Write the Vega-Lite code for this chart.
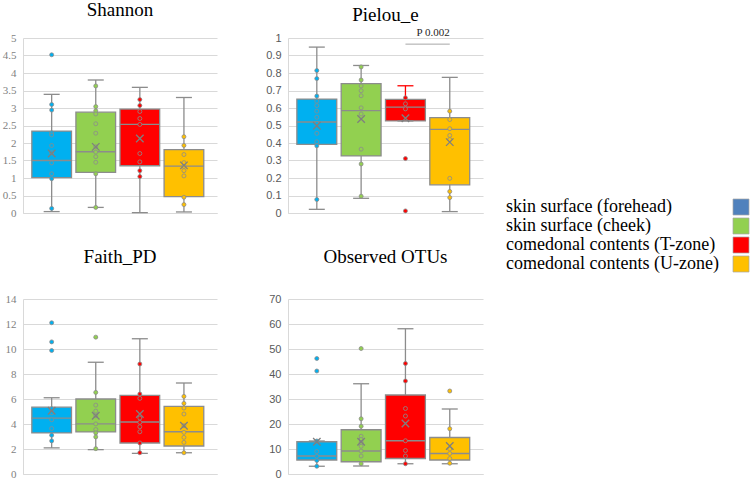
{
  "$schema": "https://vega.github.io/schema/vega-lite/v6.json",
  "padding": {"left": 2, "top": 0, "right": 0, "bottom": 0},
  "background": "white",
  "datasets": {
    "stats": [
      {"metric": "Shannon", "group": "skin surface (forehead)", "lower": 0.04, "q1": 1.01, "median": 1.50, "q3": 2.34, "upper": 3.39, "mean": 1.70},
      {"metric": "Shannon", "group": "skin surface (cheek)", "lower": 0.16, "q1": 1.16, "median": 1.75, "q3": 2.88, "upper": 3.80, "mean": 1.89},
      {"metric": "Shannon", "group": "comedonal contents (T-zone)", "lower": 0.01, "q1": 1.35, "median": 2.53, "q3": 2.97, "upper": 3.59, "mean": 2.13},
      {"metric": "Shannon", "group": "comedonal contents (U-zone)", "lower": 0.03, "q1": 0.47, "median": 1.34, "q3": 1.81, "upper": 3.30, "mean": 1.36},
      {"metric": "Pielou_e", "group": "skin surface (forehead)", "lower": 0.021, "q1": 0.392, "median": 0.520, "q3": 0.651, "upper": 0.948, "mean": 0.499},
      {"metric": "Pielou_e", "group": "skin surface (cheek)", "lower": 0.084, "q1": 0.326, "median": 0.585, "q3": 0.739, "upper": 0.843, "mean": 0.537},
      {"metric": "Pielou_e", "group": "comedonal contents (T-zone)", "lower": 0.526, "q1": 0.526, "median": 0.605, "q3": 0.649, "upper": 0.727, "mean": 0.541},
      {"metric": "Pielou_e", "group": "comedonal contents (U-zone)", "lower": 0.008, "q1": 0.161, "median": 0.478, "q3": 0.545, "upper": 0.775, "mean": 0.405},
      {"metric": "Faith_PD", "group": "skin surface (forehead)", "lower": 2.09, "q1": 3.29, "median": 4.47, "q3": 5.35, "upper": 6.10, "mean": 5.06},
      {"metric": "Faith_PD", "group": "skin surface (cheek)", "lower": 1.95, "q1": 3.37, "median": 4.01, "q3": 6.00, "upper": 8.94, "mean": 4.66},
      {"metric": "Faith_PD", "group": "comedonal contents (T-zone)", "lower": 1.65, "q1": 2.48, "median": 4.16, "q3": 6.29, "upper": 10.82, "mean": 4.80},
      {"metric": "Faith_PD", "group": "comedonal contents (U-zone)", "lower": 1.70, "q1": 2.24, "median": 3.38, "q3": 5.41, "upper": 7.28, "mean": 3.86},
      {"metric": "Observed OTUs", "group": "skin surface (forehead)", "lower": 3.1, "q1": 5.6, "median": 7.2, "q3": 12.9, "upper": 13.2, "mean": 12.9},
      {"metric": "Observed OTUs", "group": "skin surface (cheek)", "lower": 3.2, "q1": 4.9, "median": 9.2, "q3": 17.7, "upper": 36.1, "mean": 12.9},
      {"metric": "Observed OTUs", "group": "comedonal contents (T-zone)", "lower": 4.1, "q1": 6.2, "median": 13.3, "q3": 31.6, "upper": 58.1, "mean": 20.2},
      {"metric": "Observed OTUs", "group": "comedonal contents (U-zone)", "lower": 4.1, "q1": 5.6, "median": 8.2, "q3": 14.6, "upper": 26.0, "mean": 11.2}
    ],
    "points": [
      {"metric": "Shannon", "group": "skin surface (forehead)", "value": 4.52},
      {"metric": "Shannon", "group": "skin surface (forehead)", "value": 3.10},
      {"metric": "Shannon", "group": "skin surface (forehead)", "value": 2.94},
      {"metric": "Shannon", "group": "skin surface (forehead)", "value": 2.29},
      {"metric": "Shannon", "group": "skin surface (forehead)", "value": 2.23},
      {"metric": "Shannon", "group": "skin surface (forehead)", "value": 1.93},
      {"metric": "Shannon", "group": "skin surface (forehead)", "value": 1.72},
      {"metric": "Shannon", "group": "skin surface (forehead)", "value": 1.43},
      {"metric": "Shannon", "group": "skin surface (forehead)", "value": 1.12},
      {"metric": "Shannon", "group": "skin surface (forehead)", "value": 0.98},
      {"metric": "Shannon", "group": "skin surface (forehead)", "value": 0.13},
      {"metric": "Shannon", "group": "skin surface (cheek)", "value": 3.63},
      {"metric": "Shannon", "group": "skin surface (cheek)", "value": 3.04},
      {"metric": "Shannon", "group": "skin surface (cheek)", "value": 2.92},
      {"metric": "Shannon", "group": "skin surface (cheek)", "value": 2.83},
      {"metric": "Shannon", "group": "skin surface (cheek)", "value": 2.55},
      {"metric": "Shannon", "group": "skin surface (cheek)", "value": 2.28},
      {"metric": "Shannon", "group": "skin surface (cheek)", "value": 1.89},
      {"metric": "Shannon", "group": "skin surface (cheek)", "value": 1.74},
      {"metric": "Shannon", "group": "skin surface (cheek)", "value": 1.61},
      {"metric": "Shannon", "group": "skin surface (cheek)", "value": 1.45},
      {"metric": "Shannon", "group": "skin surface (cheek)", "value": 1.12},
      {"metric": "Shannon", "group": "skin surface (cheek)", "value": 0.16},
      {"metric": "Shannon", "group": "comedonal contents (T-zone)", "value": 3.24},
      {"metric": "Shannon", "group": "comedonal contents (T-zone)", "value": 3.07},
      {"metric": "Shannon", "group": "comedonal contents (T-zone)", "value": 2.90},
      {"metric": "Shannon", "group": "comedonal contents (T-zone)", "value": 2.70},
      {"metric": "Shannon", "group": "comedonal contents (T-zone)", "value": 2.53},
      {"metric": "Shannon", "group": "comedonal contents (T-zone)", "value": 1.70},
      {"metric": "Shannon", "group": "comedonal contents (T-zone)", "value": 1.46},
      {"metric": "Shannon", "group": "comedonal contents (T-zone)", "value": 1.21},
      {"metric": "Shannon", "group": "comedonal contents (T-zone)", "value": 1.04},
      {"metric": "Shannon", "group": "comedonal contents (U-zone)", "value": 2.18},
      {"metric": "Shannon", "group": "comedonal contents (U-zone)", "value": 1.93},
      {"metric": "Shannon", "group": "comedonal contents (U-zone)", "value": 1.67},
      {"metric": "Shannon", "group": "comedonal contents (U-zone)", "value": 1.44},
      {"metric": "Shannon", "group": "comedonal contents (U-zone)", "value": 1.33},
      {"metric": "Shannon", "group": "comedonal contents (U-zone)", "value": 1.21},
      {"metric": "Shannon", "group": "comedonal contents (U-zone)", "value": 1.06},
      {"metric": "Shannon", "group": "comedonal contents (U-zone)", "value": 0.45},
      {"metric": "Shannon", "group": "comedonal contents (U-zone)", "value": 0.24},
      {"metric": "Pielou_e", "group": "skin surface (forehead)", "value": 0.814},
      {"metric": "Pielou_e", "group": "skin surface (forehead)", "value": 0.768},
      {"metric": "Pielou_e", "group": "skin surface (forehead)", "value": 0.668},
      {"metric": "Pielou_e", "group": "skin surface (forehead)", "value": 0.639},
      {"metric": "Pielou_e", "group": "skin surface (forehead)", "value": 0.614},
      {"metric": "Pielou_e", "group": "skin surface (forehead)", "value": 0.582},
      {"metric": "Pielou_e", "group": "skin surface (forehead)", "value": 0.547},
      {"metric": "Pielou_e", "group": "skin surface (forehead)", "value": 0.512},
      {"metric": "Pielou_e", "group": "skin surface (forehead)", "value": 0.455},
      {"metric": "Pielou_e", "group": "skin surface (forehead)", "value": 0.407},
      {"metric": "Pielou_e", "group": "skin surface (forehead)", "value": 0.384},
      {"metric": "Pielou_e", "group": "skin surface (forehead)", "value": 0.077},
      {"metric": "Pielou_e", "group": "skin surface (cheek)", "value": 0.835},
      {"metric": "Pielou_e", "group": "skin surface (cheek)", "value": 0.760},
      {"metric": "Pielou_e", "group": "skin surface (cheek)", "value": 0.726},
      {"metric": "Pielou_e", "group": "skin surface (cheek)", "value": 0.699},
      {"metric": "Pielou_e", "group": "skin surface (cheek)", "value": 0.670},
      {"metric": "Pielou_e", "group": "skin surface (cheek)", "value": 0.601},
      {"metric": "Pielou_e", "group": "skin surface (cheek)", "value": 0.566},
      {"metric": "Pielou_e", "group": "skin surface (cheek)", "value": 0.365},
      {"metric": "Pielou_e", "group": "skin surface (cheek)", "value": 0.280},
      {"metric": "Pielou_e", "group": "skin surface (cheek)", "value": 0.096},
      {"metric": "Pielou_e", "group": "comedonal contents (T-zone)", "value": 0.658},
      {"metric": "Pielou_e", "group": "comedonal contents (T-zone)", "value": 0.624},
      {"metric": "Pielou_e", "group": "comedonal contents (T-zone)", "value": 0.595},
      {"metric": "Pielou_e", "group": "comedonal contents (T-zone)", "value": 0.311},
      {"metric": "Pielou_e", "group": "comedonal contents (T-zone)", "value": 0.012},
      {"metric": "Pielou_e", "group": "comedonal contents (U-zone)", "value": 0.582},
      {"metric": "Pielou_e", "group": "comedonal contents (U-zone)", "value": 0.534},
      {"metric": "Pielou_e", "group": "comedonal contents (U-zone)", "value": 0.482},
      {"metric": "Pielou_e", "group": "comedonal contents (U-zone)", "value": 0.443},
      {"metric": "Pielou_e", "group": "comedonal contents (U-zone)", "value": 0.420},
      {"metric": "Pielou_e", "group": "comedonal contents (U-zone)", "value": 0.198},
      {"metric": "Pielou_e", "group": "comedonal contents (U-zone)", "value": 0.123},
      {"metric": "Pielou_e", "group": "comedonal contents (U-zone)", "value": 0.088},
      {"metric": "Faith_PD", "group": "skin surface (forehead)", "value": 12.10},
      {"metric": "Faith_PD", "group": "skin surface (forehead)", "value": 10.57},
      {"metric": "Faith_PD", "group": "skin surface (forehead)", "value": 9.88},
      {"metric": "Faith_PD", "group": "skin surface (forehead)", "value": 5.22},
      {"metric": "Faith_PD", "group": "skin surface (forehead)", "value": 4.90},
      {"metric": "Faith_PD", "group": "skin surface (forehead)", "value": 4.34},
      {"metric": "Faith_PD", "group": "skin surface (forehead)", "value": 3.64},
      {"metric": "Faith_PD", "group": "skin surface (forehead)", "value": 3.10},
      {"metric": "Faith_PD", "group": "skin surface (forehead)", "value": 2.65},
      {"metric": "Faith_PD", "group": "skin surface (cheek)", "value": 10.95},
      {"metric": "Faith_PD", "group": "skin surface (cheek)", "value": 6.53},
      {"metric": "Faith_PD", "group": "skin surface (cheek)", "value": 5.51},
      {"metric": "Faith_PD", "group": "skin surface (cheek)", "value": 5.03},
      {"metric": "Faith_PD", "group": "skin surface (cheek)", "value": 4.66},
      {"metric": "Faith_PD", "group": "skin surface (cheek)", "value": 4.01},
      {"metric": "Faith_PD", "group": "skin surface (cheek)", "value": 3.56},
      {"metric": "Faith_PD", "group": "skin surface (cheek)", "value": 3.29},
      {"metric": "Faith_PD", "group": "skin surface (cheek)", "value": 2.97},
      {"metric": "Faith_PD", "group": "skin surface (cheek)", "value": 2.03},
      {"metric": "Faith_PD", "group": "comedonal contents (T-zone)", "value": 8.80},
      {"metric": "Faith_PD", "group": "comedonal contents (T-zone)", "value": 6.40},
      {"metric": "Faith_PD", "group": "comedonal contents (T-zone)", "value": 6.05},
      {"metric": "Faith_PD", "group": "comedonal contents (T-zone)", "value": 4.48},
      {"metric": "Faith_PD", "group": "comedonal contents (T-zone)", "value": 4.13},
      {"metric": "Faith_PD", "group": "comedonal contents (T-zone)", "value": 3.78},
      {"metric": "Faith_PD", "group": "comedonal contents (T-zone)", "value": 3.38},
      {"metric": "Faith_PD", "group": "comedonal contents (T-zone)", "value": 2.48},
      {"metric": "Faith_PD", "group": "comedonal contents (T-zone)", "value": 1.70},
      {"metric": "Faith_PD", "group": "comedonal contents (U-zone)", "value": 6.21},
      {"metric": "Faith_PD", "group": "comedonal contents (U-zone)", "value": 5.65},
      {"metric": "Faith_PD", "group": "comedonal contents (U-zone)", "value": 5.28},
      {"metric": "Faith_PD", "group": "comedonal contents (U-zone)", "value": 4.80},
      {"metric": "Faith_PD", "group": "comedonal contents (U-zone)", "value": 3.86},
      {"metric": "Faith_PD", "group": "comedonal contents (U-zone)", "value": 3.33},
      {"metric": "Faith_PD", "group": "comedonal contents (U-zone)", "value": 2.93},
      {"metric": "Faith_PD", "group": "comedonal contents (U-zone)", "value": 2.53},
      {"metric": "Faith_PD", "group": "comedonal contents (U-zone)", "value": 1.70},
      {"metric": "Observed OTUs", "group": "skin surface (forehead)", "value": 46.2},
      {"metric": "Observed OTUs", "group": "skin surface (forehead)", "value": 41.2},
      {"metric": "Observed OTUs", "group": "skin surface (forehead)", "value": 13.2},
      {"metric": "Observed OTUs", "group": "skin surface (forehead)", "value": 9.0},
      {"metric": "Observed OTUs", "group": "skin surface (forehead)", "value": 7.1},
      {"metric": "Observed OTUs", "group": "skin surface (forehead)", "value": 5.4},
      {"metric": "Observed OTUs", "group": "skin surface (forehead)", "value": 3.1},
      {"metric": "Observed OTUs", "group": "skin surface (cheek)", "value": 50.2},
      {"metric": "Observed OTUs", "group": "skin surface (cheek)", "value": 22.1},
      {"metric": "Observed OTUs", "group": "skin surface (cheek)", "value": 19.1},
      {"metric": "Observed OTUs", "group": "skin surface (cheek)", "value": 15.1},
      {"metric": "Observed OTUs", "group": "skin surface (cheek)", "value": 13.8},
      {"metric": "Observed OTUs", "group": "skin surface (cheek)", "value": 12.6},
      {"metric": "Observed OTUs", "group": "skin surface (cheek)", "value": 11.1},
      {"metric": "Observed OTUs", "group": "skin surface (cheek)", "value": 9.2},
      {"metric": "Observed OTUs", "group": "skin surface (cheek)", "value": 7.2},
      {"metric": "Observed OTUs", "group": "skin surface (cheek)", "value": 4.1},
      {"metric": "Observed OTUs", "group": "comedonal contents (T-zone)", "value": 44.2},
      {"metric": "Observed OTUs", "group": "comedonal contents (T-zone)", "value": 37.2},
      {"metric": "Observed OTUs", "group": "comedonal contents (T-zone)", "value": 26.2},
      {"metric": "Observed OTUs", "group": "comedonal contents (T-zone)", "value": 23.2},
      {"metric": "Observed OTUs", "group": "comedonal contents (T-zone)", "value": 13.3},
      {"metric": "Observed OTUs", "group": "comedonal contents (T-zone)", "value": 9.4},
      {"metric": "Observed OTUs", "group": "comedonal contents (T-zone)", "value": 7.2},
      {"metric": "Observed OTUs", "group": "comedonal contents (T-zone)", "value": 4.1},
      {"metric": "Observed OTUs", "group": "comedonal contents (U-zone)", "value": 33.2},
      {"metric": "Observed OTUs", "group": "comedonal contents (U-zone)", "value": 18.1},
      {"metric": "Observed OTUs", "group": "comedonal contents (U-zone)", "value": 10.0},
      {"metric": "Observed OTUs", "group": "comedonal contents (U-zone)", "value": 8.2},
      {"metric": "Observed OTUs", "group": "comedonal contents (U-zone)", "value": 6.2},
      {"metric": "Observed OTUs", "group": "comedonal contents (U-zone)", "value": 4.3}
    ],
    "annot": [
      {"from": "comedonal contents (T-zone)", "to": "comedonal contents (U-zone)", "bracket": 0.965, "labelAt": 1.0, "label": "P 0.002"}
    ],
    "groups": [
      {"group": "skin surface (forehead)"},
      {"group": "skin surface (cheek)"},
      {"group": "comedonal contents (T-zone)"},
      {"group": "comedonal contents (U-zone)"}
    ]
  },
  "spacing": 23,
  "hconcat": [
    {
      "columns": 2,
      "bounds": "flush",
      "spacing": {"row": 86, "column": 71},
      "concat": [
        {
          "width": 194, "height": 175,
          "title": {"text": "Shannon", "offset": 12.5},
          "encoding": {"x": {"field": "group", "type": "nominal", "title": null, "scale": {"domain": ["skin surface (forehead)", "skin surface (cheek)", "comedonal contents (T-zone)", "comedonal contents (U-zone)"], "paddingInner": 0.1, "paddingOuter": 0.25, "align": 0.4}, "axis": {"labels": false, "ticks": false, "grid": false, "domain": true, "domainColor": "#d9d9d9"}}},
          "layer": [
            {"data": {"name": "stats"}, "transform": [{"filter": "datum.metric === 'Shannon'"}], "mark": {"type": "rule", "color": "#8c8c8c", "strokeWidth": 1.3},
             "encoding": {"y": {"field": "lower", "type": "quantitative", "title": null, "scale": {"domain": [0, 5], "nice": false}, "axis": {"values": [0, 0.5, 1, 1.5, 2, 2.5, 3, 3.5, 4, 4.5, 5], "format": ".1~f", "labelFont": "Liberation Serif", "labelFontSize": 11, "labelColor": "#7f7f7f", "labelOverlap": false}}, "y2": {"field": "upper"}}},
            {"data": {"name": "stats"}, "transform": [{"filter": "datum.metric === 'Shannon'"}], "mark": {"type": "bar", "stroke": "#8c8c8c", "strokeWidth": 1.3},
             "encoding": {"y": {"field": "q1", "type": "quantitative", "title": null, "scale": {"domain": [0, 5], "nice": false}, "axis": {"values": [0, 0.5, 1, 1.5, 2, 2.5, 3, 3.5, 4, 4.5, 5], "format": ".1~f", "labelFont": "Liberation Serif", "labelFontSize": 11, "labelColor": "#7f7f7f", "labelOverlap": false}}, "y2": {"field": "q3"}, "color": {"field": "group", "type": "nominal", "scale": {"domain": ["skin surface (forehead)", "skin surface (cheek)", "comedonal contents (T-zone)", "comedonal contents (U-zone)"], "range": ["#00B0F0", "#92D050", "#FF0000", "#FFC000"]}, "legend": null}}},
            {"data": {"name": "stats"}, "transform": [{"filter": "datum.metric === 'Shannon'"}], "mark": {"type": "tick", "color": "#8c8c8c", "size": 16, "thickness": 1.3, "opacity": 1},
             "encoding": {"y": {"field": "lower", "type": "quantitative", "title": null, "scale": {"domain": [0, 5], "nice": false}, "axis": {"values": [0, 0.5, 1, 1.5, 2, 2.5, 3, 3.5, 4, 4.5, 5], "format": ".1~f", "labelFont": "Liberation Serif", "labelFontSize": 11, "labelColor": "#7f7f7f", "labelOverlap": false}}}},
            {"data": {"name": "stats"}, "transform": [{"filter": "datum.metric === 'Shannon'"}], "mark": {"type": "tick", "color": "#8c8c8c", "size": 16, "thickness": 1.3, "opacity": 1},
             "encoding": {"y": {"field": "upper", "type": "quantitative", "title": null, "scale": {"domain": [0, 5], "nice": false}, "axis": {"values": [0, 0.5, 1, 1.5, 2, 2.5, 3, 3.5, 4, 4.5, 5], "format": ".1~f", "labelFont": "Liberation Serif", "labelFontSize": 11, "labelColor": "#7f7f7f", "labelOverlap": false}}}},
            {"data": {"name": "stats"}, "transform": [{"filter": "datum.metric === 'Shannon'"}], "mark": {"type": "tick", "color": "#8c8c8c", "size": 40, "thickness": 1.3, "opacity": 1},
             "encoding": {"y": {"field": "median", "type": "quantitative", "title": null, "scale": {"domain": [0, 5], "nice": false}, "axis": {"values": [0, 0.5, 1, 1.5, 2, 2.5, 3, 3.5, 4, 4.5, 5], "format": ".1~f", "labelFont": "Liberation Serif", "labelFontSize": 11, "labelColor": "#7f7f7f", "labelOverlap": false}}}},
            {"data": {"name": "points"}, "transform": [{"filter": "datum.metric === 'Shannon'"}], "mark": {"type": "point", "filled": true, "size": 16, "stroke": "#8c8c8c", "strokeWidth": 0.8, "opacity": 1},
             "encoding": {"y": {"field": "value", "type": "quantitative", "title": null, "scale": {"domain": [0, 5], "nice": false}, "axis": {"values": [0, 0.5, 1, 1.5, 2, 2.5, 3, 3.5, 4, 4.5, 5], "format": ".1~f", "labelFont": "Liberation Serif", "labelFontSize": 11, "labelColor": "#7f7f7f", "labelOverlap": false}}, "color": {"field": "group", "type": "nominal", "legend": null}}},
            {"data": {"name": "stats"}, "transform": [{"filter": "datum.metric === 'Shannon'"}], "mark": {"type": "point", "shape": "M-1,-1L1,1M-1,1L1,-1", "filled": false, "color": "#7f7f7f", "size": 56, "strokeWidth": 1.3, "opacity": 1},
             "encoding": {"y": {"field": "mean", "type": "quantitative", "title": null, "scale": {"domain": [0, 5], "nice": false}, "axis": {"values": [0, 0.5, 1, 1.5, 2, 2.5, 3, 3.5, 4, 4.5, 5], "format": ".1~f", "labelFont": "Liberation Serif", "labelFontSize": 11, "labelColor": "#7f7f7f", "labelOverlap": false}}}}
          ]
        },
        {
          "width": 195, "height": 175,
          "title": {"text": "Pielou_e", "offset": 2.5},
          "encoding": {"x": {"field": "group", "type": "nominal", "title": null, "scale": {"domain": ["skin surface (forehead)", "skin surface (cheek)", "comedonal contents (T-zone)", "comedonal contents (U-zone)"], "paddingInner": 0.1, "paddingOuter": 0.25, "align": 0.4}, "axis": {"labels": false, "ticks": false, "grid": false, "domain": true, "domainColor": "#d9d9d9"}}},
          "layer": [
            {"data": {"name": "stats"}, "transform": [{"filter": "datum.metric === 'Pielou_e'"}], "mark": {"type": "rule", "strokeWidth": 1.3},
             "encoding": {"y": {"field": "lower", "type": "quantitative", "title": null, "scale": {"domain": [0, 1], "nice": false}, "axis": {"values": [0, 0.1, 0.2, 0.3, 0.4, 0.5, 0.6, 0.7, 0.8, 0.9, 1], "format": ".1~f", "labelFont": "Liberation Sans", "labelFontSize": 11, "labelColor": "#595959", "labelOverlap": false}}, "y2": {"field": "upper"}, "color": {"condition": {"test": "datum.group === 'comedonal contents (T-zone)'", "value": "#FF0000"}, "value": "#8c8c8c"}}},
            {"data": {"name": "stats"}, "transform": [{"filter": "datum.metric === 'Pielou_e'"}], "mark": {"type": "bar", "stroke": "#8c8c8c", "strokeWidth": 1.3},
             "encoding": {"y": {"field": "q1", "type": "quantitative", "title": null, "scale": {"domain": [0, 1], "nice": false}, "axis": {"values": [0, 0.1, 0.2, 0.3, 0.4, 0.5, 0.6, 0.7, 0.8, 0.9, 1], "format": ".1~f", "labelFont": "Liberation Sans", "labelFontSize": 11, "labelColor": "#595959", "labelOverlap": false}}, "y2": {"field": "q3"}, "color": {"field": "group", "type": "nominal", "legend": null}}},
            {"data": {"name": "stats"}, "transform": [{"filter": "datum.metric === 'Pielou_e'"}], "mark": {"type": "tick", "color": "#8c8c8c", "size": 16, "thickness": 1.3, "opacity": 1},
             "encoding": {"y": {"field": "lower", "type": "quantitative", "title": null, "scale": {"domain": [0, 1], "nice": false}, "axis": {"values": [0, 0.1, 0.2, 0.3, 0.4, 0.5, 0.6, 0.7, 0.8, 0.9, 1], "format": ".1~f", "labelFont": "Liberation Sans", "labelFontSize": 11, "labelColor": "#595959", "labelOverlap": false}}}},
            {"data": {"name": "stats"}, "transform": [{"filter": "datum.metric === 'Pielou_e'"}], "mark": {"type": "tick", "size": 16, "thickness": 1.3, "opacity": 1},
             "encoding": {"y": {"field": "upper", "type": "quantitative", "title": null, "scale": {"domain": [0, 1], "nice": false}, "axis": {"values": [0, 0.1, 0.2, 0.3, 0.4, 0.5, 0.6, 0.7, 0.8, 0.9, 1], "format": ".1~f", "labelFont": "Liberation Sans", "labelFontSize": 11, "labelColor": "#595959", "labelOverlap": false}}, "color": {"condition": {"test": "datum.group === 'comedonal contents (T-zone)'", "value": "#FF0000"}, "value": "#8c8c8c"}}},
            {"data": {"name": "stats"}, "transform": [{"filter": "datum.metric === 'Pielou_e'"}], "mark": {"type": "tick", "color": "#8c8c8c", "size": 40, "thickness": 1.3, "opacity": 1},
             "encoding": {"y": {"field": "median", "type": "quantitative", "title": null, "scale": {"domain": [0, 1], "nice": false}, "axis": {"values": [0, 0.1, 0.2, 0.3, 0.4, 0.5, 0.6, 0.7, 0.8, 0.9, 1], "format": ".1~f", "labelFont": "Liberation Sans", "labelFontSize": 11, "labelColor": "#595959", "labelOverlap": false}}}},
            {"data": {"name": "points"}, "transform": [{"filter": "datum.metric === 'Pielou_e'"}], "mark": {"type": "point", "filled": true, "size": 16, "stroke": "#8c8c8c", "strokeWidth": 0.8, "opacity": 1},
             "encoding": {"y": {"field": "value", "type": "quantitative", "title": null, "scale": {"domain": [0, 1], "nice": false}, "axis": {"values": [0, 0.1, 0.2, 0.3, 0.4, 0.5, 0.6, 0.7, 0.8, 0.9, 1], "format": ".1~f", "labelFont": "Liberation Sans", "labelFontSize": 11, "labelColor": "#595959", "labelOverlap": false}}, "color": {"field": "group", "type": "nominal", "legend": null}}},
            {"data": {"name": "stats"}, "transform": [{"filter": "datum.metric === 'Pielou_e'"}], "mark": {"type": "point", "shape": "M-1,-1L1,1M-1,1L1,-1", "filled": false, "color": "#7f7f7f", "size": 56, "strokeWidth": 1.3, "opacity": 1},
             "encoding": {"y": {"field": "mean", "type": "quantitative", "title": null, "scale": {"domain": [0, 1], "nice": false}, "axis": {"values": [0, 0.1, 0.2, 0.3, 0.4, 0.5, 0.6, 0.7, 0.8, 0.9, 1], "format": ".1~f", "labelFont": "Liberation Sans", "labelFontSize": 11, "labelColor": "#595959", "labelOverlap": false}}}},
            {"data": {"name": "annot"}, "mark": {"type": "rule", "color": "#a6a6a6", "strokeWidth": 1},
             "encoding": {"x": {"field": "from", "type": "nominal", "title": null}, "x2": {"field": "to"}, "y": {"field": "bracket", "type": "quantitative", "title": null, "scale": {"domain": [0, 1], "nice": false}, "axis": {"values": [0, 0.1, 0.2, 0.3, 0.4, 0.5, 0.6, 0.7, 0.8, 0.9, 1], "format": ".1~f", "labelFont": "Liberation Sans", "labelFontSize": 11, "labelColor": "#595959", "labelOverlap": false}}}},
            {"data": {"name": "annot"}, "mark": {"type": "text", "align": "right", "baseline": "alphabetic", "font": "Liberation Serif", "fontSize": 11, "color": "#262626", "dy": -2},
             "encoding": {"x": {"field": "to", "type": "nominal", "title": null}, "y": {"field": "labelAt", "type": "quantitative", "title": null, "scale": {"domain": [0, 1], "nice": false}, "axis": {"values": [0, 0.1, 0.2, 0.3, 0.4, 0.5, 0.6, 0.7, 0.8, 0.9, 1], "format": ".1~f", "labelFont": "Liberation Sans", "labelFontSize": 11, "labelColor": "#595959", "labelOverlap": false}}, "text": {"field": "label"}}}
          ]
        },
        {
          "width": 194, "height": 175,
          "title": {"text": "Faith_PD", "offset": 26},
          "encoding": {"x": {"field": "group", "type": "nominal", "title": null, "scale": {"domain": ["skin surface (forehead)", "skin surface (cheek)", "comedonal contents (T-zone)", "comedonal contents (U-zone)"], "paddingInner": 0.1, "paddingOuter": 0.25, "align": 0.4}, "axis": {"labels": false, "ticks": false, "grid": false, "domain": true, "domainColor": "#d9d9d9"}}},
          "layer": [
            {"data": {"name": "stats"}, "transform": [{"filter": "datum.metric === 'Faith_PD'"}], "mark": {"type": "rule", "color": "#8c8c8c", "strokeWidth": 1.3},
             "encoding": {"y": {"field": "lower", "type": "quantitative", "title": null, "scale": {"domain": [0, 14], "nice": false}, "axis": {"values": [0, 2, 4, 6, 8, 10, 12, 14], "format": "d", "labelFont": "Liberation Serif", "labelFontSize": 11, "labelColor": "#7f7f7f", "labelOverlap": false}}, "y2": {"field": "upper"}}},
            {"data": {"name": "stats"}, "transform": [{"filter": "datum.metric === 'Faith_PD'"}], "mark": {"type": "bar", "stroke": "#8c8c8c", "strokeWidth": 1.3},
             "encoding": {"y": {"field": "q1", "type": "quantitative", "title": null, "scale": {"domain": [0, 14], "nice": false}, "axis": {"values": [0, 2, 4, 6, 8, 10, 12, 14], "format": "d", "labelFont": "Liberation Serif", "labelFontSize": 11, "labelColor": "#7f7f7f", "labelOverlap": false}}, "y2": {"field": "q3"}, "color": {"field": "group", "type": "nominal", "legend": null}}},
            {"data": {"name": "stats"}, "transform": [{"filter": "datum.metric === 'Faith_PD'"}], "mark": {"type": "tick", "color": "#8c8c8c", "size": 16, "thickness": 1.3, "opacity": 1},
             "encoding": {"y": {"field": "lower", "type": "quantitative", "title": null, "scale": {"domain": [0, 14], "nice": false}, "axis": {"values": [0, 2, 4, 6, 8, 10, 12, 14], "format": "d", "labelFont": "Liberation Serif", "labelFontSize": 11, "labelColor": "#7f7f7f", "labelOverlap": false}}}},
            {"data": {"name": "stats"}, "transform": [{"filter": "datum.metric === 'Faith_PD'"}], "mark": {"type": "tick", "color": "#8c8c8c", "size": 16, "thickness": 1.3, "opacity": 1},
             "encoding": {"y": {"field": "upper", "type": "quantitative", "title": null, "scale": {"domain": [0, 14], "nice": false}, "axis": {"values": [0, 2, 4, 6, 8, 10, 12, 14], "format": "d", "labelFont": "Liberation Serif", "labelFontSize": 11, "labelColor": "#7f7f7f", "labelOverlap": false}}}},
            {"data": {"name": "stats"}, "transform": [{"filter": "datum.metric === 'Faith_PD'"}], "mark": {"type": "tick", "color": "#8c8c8c", "size": 40, "thickness": 1.3, "opacity": 1},
             "encoding": {"y": {"field": "median", "type": "quantitative", "title": null, "scale": {"domain": [0, 14], "nice": false}, "axis": {"values": [0, 2, 4, 6, 8, 10, 12, 14], "format": "d", "labelFont": "Liberation Serif", "labelFontSize": 11, "labelColor": "#7f7f7f", "labelOverlap": false}}}},
            {"data": {"name": "points"}, "transform": [{"filter": "datum.metric === 'Faith_PD'"}], "mark": {"type": "point", "filled": true, "size": 16, "stroke": "#8c8c8c", "strokeWidth": 0.8, "opacity": 1},
             "encoding": {"y": {"field": "value", "type": "quantitative", "title": null, "scale": {"domain": [0, 14], "nice": false}, "axis": {"values": [0, 2, 4, 6, 8, 10, 12, 14], "format": "d", "labelFont": "Liberation Serif", "labelFontSize": 11, "labelColor": "#7f7f7f", "labelOverlap": false}}, "color": {"field": "group", "type": "nominal", "legend": null}}},
            {"data": {"name": "stats"}, "transform": [{"filter": "datum.metric === 'Faith_PD'"}], "mark": {"type": "point", "shape": "M-1,-1L1,1M-1,1L1,-1", "filled": false, "color": "#7f7f7f", "size": 56, "strokeWidth": 1.3, "opacity": 1},
             "encoding": {"y": {"field": "mean", "type": "quantitative", "title": null, "scale": {"domain": [0, 14], "nice": false}, "axis": {"values": [0, 2, 4, 6, 8, 10, 12, 14], "format": "d", "labelFont": "Liberation Serif", "labelFontSize": 11, "labelColor": "#7f7f7f", "labelOverlap": false}}}}
          ]
        },
        {
          "width": 195, "height": 175,
          "title": {"text": "Observed OTUs", "offset": 26},
          "encoding": {"x": {"field": "group", "type": "nominal", "title": null, "scale": {"domain": ["skin surface (forehead)", "skin surface (cheek)", "comedonal contents (T-zone)", "comedonal contents (U-zone)"], "paddingInner": 0.1, "paddingOuter": 0.25, "align": 0.4}, "axis": {"labels": false, "ticks": false, "grid": false, "domain": true, "domainColor": "#d9d9d9"}}},
          "layer": [
            {"data": {"name": "stats"}, "transform": [{"filter": "datum.metric === 'Observed OTUs'"}], "mark": {"type": "rule", "color": "#8c8c8c", "strokeWidth": 1.3},
             "encoding": {"y": {"field": "lower", "type": "quantitative", "title": null, "scale": {"domain": [0, 70], "nice": false}, "axis": {"values": [0, 10, 20, 30, 40, 50, 60, 70], "format": "d", "labelFont": "Liberation Sans", "labelFontSize": 11, "labelColor": "#595959", "labelOverlap": false}}, "y2": {"field": "upper"}}},
            {"data": {"name": "stats"}, "transform": [{"filter": "datum.metric === 'Observed OTUs'"}], "mark": {"type": "bar", "stroke": "#8c8c8c", "strokeWidth": 1.3},
             "encoding": {"y": {"field": "q1", "type": "quantitative", "title": null, "scale": {"domain": [0, 70], "nice": false}, "axis": {"values": [0, 10, 20, 30, 40, 50, 60, 70], "format": "d", "labelFont": "Liberation Sans", "labelFontSize": 11, "labelColor": "#595959", "labelOverlap": false}}, "y2": {"field": "q3"}, "color": {"field": "group", "type": "nominal", "legend": null}}},
            {"data": {"name": "stats"}, "transform": [{"filter": "datum.metric === 'Observed OTUs'"}], "mark": {"type": "tick", "color": "#8c8c8c", "size": 16, "thickness": 1.3, "opacity": 1},
             "encoding": {"y": {"field": "lower", "type": "quantitative", "title": null, "scale": {"domain": [0, 70], "nice": false}, "axis": {"values": [0, 10, 20, 30, 40, 50, 60, 70], "format": "d", "labelFont": "Liberation Sans", "labelFontSize": 11, "labelColor": "#595959", "labelOverlap": false}}}},
            {"data": {"name": "stats"}, "transform": [{"filter": "datum.metric === 'Observed OTUs'"}], "mark": {"type": "tick", "color": "#8c8c8c", "size": 16, "thickness": 1.3, "opacity": 1},
             "encoding": {"y": {"field": "upper", "type": "quantitative", "title": null, "scale": {"domain": [0, 70], "nice": false}, "axis": {"values": [0, 10, 20, 30, 40, 50, 60, 70], "format": "d", "labelFont": "Liberation Sans", "labelFontSize": 11, "labelColor": "#595959", "labelOverlap": false}}}},
            {"data": {"name": "stats"}, "transform": [{"filter": "datum.metric === 'Observed OTUs'"}], "mark": {"type": "tick", "color": "#8c8c8c", "size": 40, "thickness": 1.3, "opacity": 1},
             "encoding": {"y": {"field": "median", "type": "quantitative", "title": null, "scale": {"domain": [0, 70], "nice": false}, "axis": {"values": [0, 10, 20, 30, 40, 50, 60, 70], "format": "d", "labelFont": "Liberation Sans", "labelFontSize": 11, "labelColor": "#595959", "labelOverlap": false}}}},
            {"data": {"name": "points"}, "transform": [{"filter": "datum.metric === 'Observed OTUs'"}], "mark": {"type": "point", "filled": true, "size": 16, "stroke": "#8c8c8c", "strokeWidth": 0.8, "opacity": 1},
             "encoding": {"y": {"field": "value", "type": "quantitative", "title": null, "scale": {"domain": [0, 70], "nice": false}, "axis": {"values": [0, 10, 20, 30, 40, 50, 60, 70], "format": "d", "labelFont": "Liberation Sans", "labelFontSize": 11, "labelColor": "#595959", "labelOverlap": false}}, "color": {"field": "group", "type": "nominal", "legend": null}}},
            {"data": {"name": "stats"}, "transform": [{"filter": "datum.metric === 'Observed OTUs'"}], "mark": {"type": "point", "shape": "M-1,-1L1,1M-1,1L1,-1", "filled": false, "color": "#7f7f7f", "size": 56, "strokeWidth": 1.3, "opacity": 1},
             "encoding": {"y": {"field": "mean", "type": "quantitative", "title": null, "scale": {"domain": [0, 70], "nice": false}, "axis": {"values": [0, 10, 20, 30, 40, 50, 60, 70], "format": "d", "labelFont": "Liberation Sans", "labelFontSize": 11, "labelColor": "#595959", "labelOverlap": false}}}}
          ]
        }
      ]
    },
    {
      "width": 235, "height": 300,
      "data": {"name": "groups"},
      "layer": [
        {"mark": {"type": "text", "align": "left", "baseline": "middle", "font": "Liberation Serif", "fontSize": 18, "color": "#000000"},
         "encoding": {
           "x": {"datum": 0, "type": "quantitative", "scale": {"domain": [0, 1]}, "axis": null},
           "y": {"field": "group", "type": "nominal", "scale": {"type": "point", "padding": 0, "domain": ["skin surface (forehead)", "skin surface (cheek)", "comedonal contents (T-zone)", "comedonal contents (U-zone)"], "range": [169, 226]}, "axis": null},
           "text": {"field": "group"}}},
        {"mark": {"type": "point", "shape": "square", "filled": true, "size": 256, "stroke": "#a6a6a6", "strokeWidth": 0.7, "opacity": 1},
         "encoding": {
           "x": {"datum": 1, "type": "quantitative"},
           "y": {"field": "group", "type": "nominal"},
           "fill": {"field": "group", "type": "nominal", "scale": {"domain": ["skin surface (forehead)", "skin surface (cheek)", "comedonal contents (T-zone)", "comedonal contents (U-zone)"], "range": ["#4F81BD", "#92D050", "#FF0000", "#FFC000"]}, "legend": null}}}
      ]
    }
  ],
  "config": {
    "view": {"stroke": null},
    "axis": {"labelColor": "#595959", "gridColor": "#d9d9d9", "domainColor": "#d9d9d9", "ticks": false, "labelPadding": 7, "gridWidth": 1, "domainWidth": 1},
    "axisY": {"grid": true},
    "title": {"font": "Liberation Serif", "fontSize": 19, "fontWeight": "normal", "color": "#000000", "frame": "group", "anchor": "middle", "baseline": "alphabetic"}
  }
}
